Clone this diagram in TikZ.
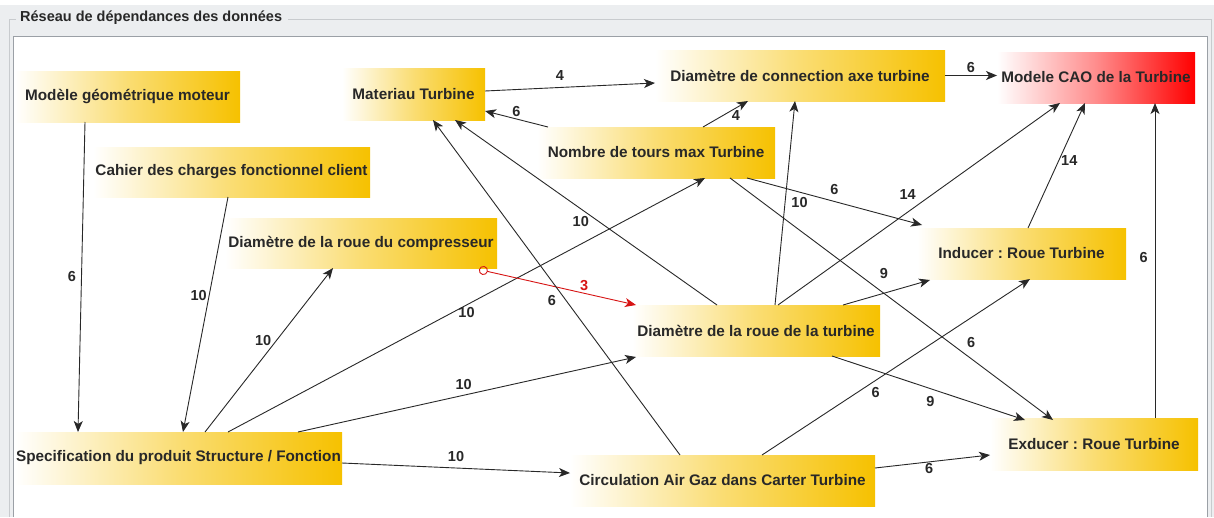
\documentclass[tikz,border=0pt]{standalone}
\usepackage{fontspec}
\setmainfont{Liberation Sans}
\frenchspacing
\usetikzlibrary{arrows.meta}

\definecolor{boxgold}{RGB}{246,193,0}
\definecolor{caored}{RGB}{255,0,0}
\definecolor{inkgrey}{RGB}{40,40,40}
\definecolor{panelgrey}{RGB}{236,238,240}
\definecolor{rimgrey}{RGB}{155,160,166}
\definecolor{deplink}{RGB}{215,20,20}

\begin{document}
\begin{tikzpicture}[
  x=1pt, y=-1pt,
  box/.style={rectangle, inner sep=0pt, outer sep=0pt, left color=white, right color=boxgold, middle color=boxgold!55, text=inkgrey, font=\fontsize{15.3}{18}\selectfont\bfseries, minimum height=51pt},
  caobox/.style={box, right color=caored, middle color=caored!45},
  lbl/.style={font=\fontsize{14.5}{17}\selectfont\bfseries, text=inkgrey, inner sep=2pt},
  dep/.style={draw=inkgrey, line width=0.9pt, -{Stealth[length=11pt, width=9pt, inset=3pt]}},
]
  \useasboundingbox (0,0) rectangle (1214,517);
  % panel
  \fill[panelgrey] (0,5) rectangle (1214,517);
  \fill[white] (14,37) rectangle (1207,517);
  \draw[rimgrey!55, line width=1pt] (16,19) -- (9,19) -- (9,517);
  \draw[rimgrey!55, line width=1pt] (288,19) -- (1211,19) -- (1211,517);
  \draw[rimgrey, line width=1pt] (13.5,517) -- (13.5,36.5) -- (1207.5,36.5) -- (1207.5,517);
  \node[anchor=west, inner sep=0pt, text=inkgrey, font=\fontsize{14.5}{17}\selectfont\bfseries] (titre) at (20,18) {Réseau de dépendances des données};

  % data nodes
  \node[box, minimum width=225pt] (modele) at (127.5,96.5) {Modèle géométrique moteur};
  \node[box, minimum width=143pt, minimum height=52pt] (mat) at (413.5,94) {Materiau Turbine};
  \node[box, minimum width=290pt] (conn) at (800,75.5) {Diamètre de connection axe turbine};
  \node[caobox, minimum width=198pt] (cao) at (1096,77.5) {Modele CAO de la Turbine};
  \node[box, minimum width=238pt] (tours) at (656,152.5) {Nombre de tours max Turbine};
  \node[box, minimum width=277pt, minimum height=50pt] (cahier) at (231.5,172) {Cahier des charges fonctionnel client};
  \node[box, minimum width=272pt, minimum height=50pt] (comp) at (361,243) {Diamètre de la roue du compresseur};
  \node[box, minimum width=209pt] (ind) at (1021.5,253.5) {Inducer : Roue Turbine};
  \node[box, minimum width=248pt] (turb) at (756,330.5) {Diamètre de la roue de la turbine};
  \node[box, minimum width=327pt, minimum height=52pt] (spec) at (178.5,458) {Specification du produit Structure / Fonction};
  \node[box, minimum width=305pt] (circ) at (722.5,480.5) {Circulation Air Gaz dans Carter Turbine};
  \node[box, minimum width=208pt, minimum height=52pt] (exd) at (1094,444) {Exducer : Roue Turbine};

  % dependencies
  \draw[dep] ([xshift=70pt]modele.south west) -- node[lbl, left=3pt, pos=0.5] {6} ([xshift=63pt]spec.north west);
  \draw[dep] ([xshift=135pt]cahier.south west) -- node[lbl, left, pos=0.42] {10} ([xshift=168pt]spec.north west);
  \draw[dep] ([xshift=190pt]spec.north west) -- node[lbl, left=3pt, pos=0.56] {10} ([xshift=108pt]comp.south west);
  \draw[dep] ([xshift=213pt]spec.north west) -- node[lbl, below, pos=0.5] {10} ([xshift=168pt]tours.south west);
  \draw[dep] ([xshift=283pt]spec.north west) -- node[lbl, above=3pt, pos=0.49] {10} ([xshift=4pt, yshift=-1pt]turb.south west);
  \draw[dep] ([yshift=-5pt]spec.east) -- node[lbl, above=4pt, pos=0.5] {10} ([yshift=7.5pt]circ.west);
  \draw[dep, draw=deplink, {Circle[open, length=9pt, width=9pt]}-{Stealth[length=11pt, width=9pt, inset=3pt]}] ([xshift=-18pt, yshift=-1.5pt]comp.south east) -- node[lbl, text=deplink, above, pos=0.67] {3} ([xshift=4pt]turb.north west);
  \draw[dep] ([yshift=3pt]mat.east) -- node[lbl, above=5pt, pos=0.44] {4} ([yshift=-7.5pt]conn.west);
  \draw[dep] ([xshift=11pt]tours.north west) -- node[lbl, above, pos=0.5] {6} ([yshift=9pt]mat.south east);
  \draw[dep] ([xshift=166pt]tours.north west) -- node[lbl, below, pos=0.73] {4} ([xshift=93pt]conn.south west);
  \draw[dep] (conn.east) -- node[lbl, above, pos=0.5] {6} (conn.east -| cao.west);
  \draw[dep] ([xshift=-28pt]tours.south east) -- node[lbl, above=4pt, pos=0.5] {6} ([xshift=5pt, yshift=3pt]ind.north west);
  \draw[dep] ([xshift=143pt]turb.north west) -- node[lbl, right=4pt, pos=0.5] {10} ([xshift=140pt]conn.south west);
  \draw[dep] ([xshift=146pt]turb.north west) -- node[lbl, above=10pt, pos=0.46] {14} ([xshift=63pt]cao.south west);
  \draw[dep] ([xshift=111pt]ind.north west) -- node[lbl, right, pos=0.54] {14} ([xshift=88pt]cao.south west);
  \draw[dep] ([xshift=165pt]exd.north west) -- node[lbl, left=5pt, pos=0.51] {6} ([xshift=158pt]cao.south west);
  \draw[dep] ([xshift=85pt]turb.north west) -- node[lbl, below=5pt, pos=0.52] {10} ([xshift=113pt]mat.south west);
  \draw[dep] ([xshift=110pt]circ.north west) -- node[lbl, left=8pt, pos=0.46] {6} ([xshift=91pt]mat.south west);
  \draw[dep] ([xshift=211pt]turb.north west) -- node[lbl, above=12pt, pos=0.47] {9} ([xshift=13pt, yshift=-1pt]ind.south west);
  \draw[dep] ([xshift=200pt]turb.south west) -- node[lbl, below=5pt, pos=0.51] {9} ([xshift=35pt, yshift=-2pt]exd.north west);
  \draw[dep] ([xshift=193pt]tours.south west) -- node[lbl, above right=2pt, pos=0.72] {6} ([xshift=63pt, yshift=-2pt]exd.north west);
  \draw[dep] ([xshift=192pt]circ.north west) -- node[lbl, below right, pos=0.4] {6} ([xshift=113pt]ind.south west);
  \draw[dep] ([yshift=12.5pt]circ.east) -- node[lbl, below, inner sep=1pt, pos=0.47] {6} ([yshift=15pt]exd.south west);
\end{tikzpicture}
\end{document}
